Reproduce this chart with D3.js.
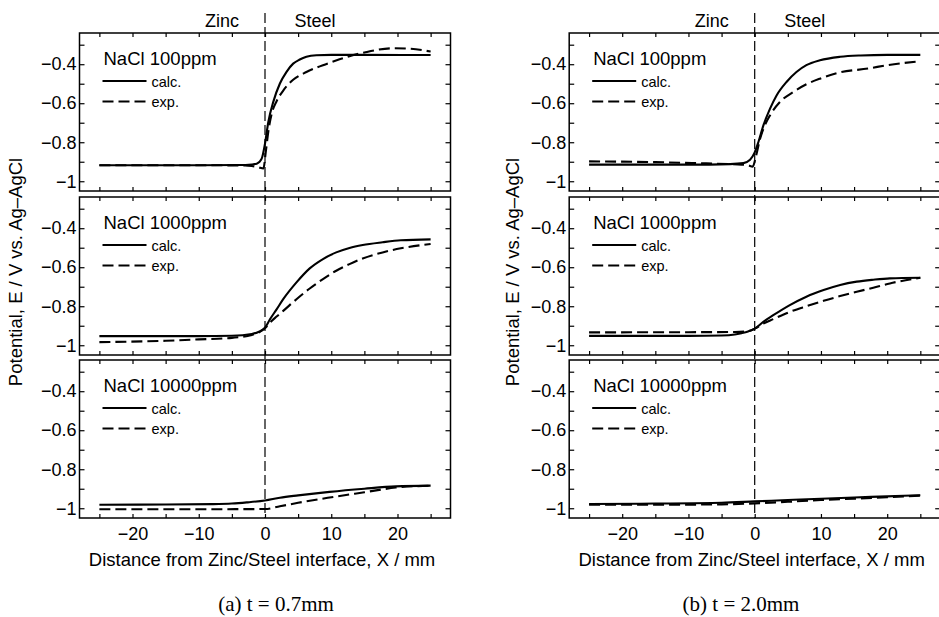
<!DOCTYPE html>
<html>
<head>
<meta charset="utf-8">
<script src="https://cdn.jsdelivr.net/npm/d3@7"></script>
<style>
body { margin: 0; background: #fff; }
svg { display: block; font-family: "Liberation Sans", Arial, sans-serif; }
</style>
</head>
<body>
<svg width="939" height="617"></svg>
<script>
// Potential profiles, [x in mm, E in V]
// (a) t = 0.7mm
var a100calc = [[-25,-0.918],[-10,-0.918],[-4,-0.917],[-2,-0.914],[-1.25,-0.91],[-0.5,-0.884],[0,-0.807],[0.5,-0.696],[1.25,-0.593],[2.25,-0.499],[3.25,-0.439],[4.25,-0.397],[5.25,-0.376],[6.25,-0.362],[7.75,-0.354],[10,-0.352],[15,-0.352],[25,-0.353]];
var a100exp = [[-25,-0.918],[-10,-0.918],[-3,-0.919],[-2,-0.922],[-1,-0.928],[-0.25,-0.935],[0.15,-0.84],[0.5,-0.745],[1,-0.655],[1.75,-0.59],[2.75,-0.535],[4.25,-0.48],[6.25,-0.44],[8.75,-0.405],[11.25,-0.375],[13,-0.356],[15,-0.34],[17,-0.326],[19.5,-0.318],[22,-0.321],[25,-0.335]];
var a1000calc = [[-25,-0.953],[-10,-0.953],[-5,-0.951],[-2,-0.942],[-1,-0.932],[0,-0.91],[0.75,-0.867],[1.75,-0.816],[2.75,-0.764],[4.75,-0.678],[6.75,-0.606],[8.75,-0.558],[10.75,-0.524],[12.75,-0.501],[14.75,-0.486],[17.75,-0.472],[20.5,-0.462],[25,-0.457]];
var a1000exp = [[-25,-0.984],[-15,-0.977],[-10,-0.97],[-5,-0.962],[-2,-0.947],[-1,-0.935],[0,-0.913],[0.75,-0.884],[1.75,-0.853],[2.75,-0.824],[4.75,-0.764],[6.75,-0.709],[8.75,-0.661],[10.75,-0.618],[12.75,-0.584],[14.75,-0.555],[17.75,-0.524],[20.5,-0.503],[25,-0.481]];
var a10000calc = [[-25,-0.982],[-15,-0.981],[-8,-0.979],[-5,-0.976],[-2.75,-0.97],[0,-0.96],[2.25,-0.946],[5,-0.934],[9.75,-0.916],[15,-0.9],[19.75,-0.888],[25,-0.884]];
var a10000exp = [[-25,-1.005],[-10,-1.005],[0,-1.004],[2.25,-0.99],[5,-0.972],[9.75,-0.945],[15,-0.918],[19.75,-0.894],[25,-0.884]];

// (b) t = 2.0mm
var b100calc = [[-25,-0.915],[-10,-0.915],[-3.7,-0.912],[-1.7,-0.907],[-0.7,-0.89],[0,-0.852],[0.55,-0.8],[1.3,-0.715],[2.3,-0.629],[3.3,-0.56],[4.8,-0.491],[6.3,-0.44],[7.8,-0.405],[9.85,-0.38],[12.9,-0.362],[16,-0.355],[20,-0.352],[25,-0.352]];
var b100exp = [[-25,-0.898],[-15,-0.902],[-8,-0.908],[-4,-0.912],[-2,-0.915],[-1,-0.918],[-0.3,-0.925],[0.2,-0.87],[0.8,-0.783],[1.3,-0.732],[2.3,-0.663],[3.8,-0.594],[5.8,-0.543],[7.8,-0.503],[9.85,-0.474],[12.5,-0.445],[17.3,-0.421],[20,-0.405],[25,-0.385]];
var b1000calc = [[-25,-0.952],[-10,-0.952],[-5,-0.95],[-3,-0.945],[-2,-0.938],[-1,-0.929],[0,-0.915],[1.3,-0.88],[2.8,-0.846],[5.3,-0.794],[7.8,-0.751],[10.4,-0.717],[12.9,-0.691],[15.4,-0.674],[17.9,-0.664],[20.4,-0.657],[25,-0.654]];
var b1000exp = [[-25,-0.934],[-10,-0.933],[-3,-0.932],[-1,-0.928],[0,-0.915],[1.3,-0.889],[2.8,-0.866],[5.3,-0.829],[7.8,-0.8],[10.4,-0.772],[12.9,-0.748],[15.4,-0.726],[17.9,-0.705],[20.4,-0.683],[25,-0.654]];
var b10000calc = [[-25,-0.978],[-15,-0.976],[-5,-0.972],[0,-0.965],[5,-0.958],[10,-0.951],[15,-0.945],[20,-0.939],[25,-0.933]];
var b10000exp = [[-25,-0.982],[-15,-0.982],[-5,-0.98],[0,-0.975],[5,-0.967],[10,-0.958],[15,-0.951],[20,-0.943],[25,-0.935]];

var panelNames = ["NaCl 100ppm", "NaCl 1000ppm", "NaCl 10000ppm"];
var legendNames = ["calc.", "exp."];
var xMajor = [-20, -10, 0, 10, 20];
var xMinor = [-25, -15, -5, 5, 15, 25];
var yMajor = [-0.4, -0.6, -0.8, -1];
var yMinor = [-0.3, -0.5, -0.7, -0.9];

// Layout
var svg = d3.select("svg");
var panelTops = [33, 197, 360], panelH = 158;
var xDomain = [-28, 28], yDomain = [-1.05, -0.24];
var dashExp = "11,5";

function styleAxis(g) {
    g.attr("font-family", null).attr("font-size", 18);
    g.select(".domain").remove();
    g.selectAll("line").attr("stroke", "#000").attr("stroke-width", 1.2);
    g.selectAll("text").attr("fill", "#000");
}

function drawFigure(left, right, sets, caption, yLabX, capX) {
    var x = d3.scaleLinear().domain(xDomain).range([left, right]);
    var g = svg.append("g");

    sets.forEach(function(s, i) {
        var top = panelTops[i];
        var y = d3.scaleLinear().domain(yDomain).range([top + panelH, top]);
        var p = g.append("g");

        // ticks (inward)
        p.append("g").attr("transform", `translate(${left},0)`)
            .call(d3.axisLeft(y).tickValues(yMajor.concat(yMinor)).tickSizeInner(-5).tickSizeOuter(0)
                .tickPadding(3).tickFormat(d => yMajor.includes(d) ? d3.format("")(d) : ""))
            .call(styleAxis);
        p.append("g").attr("transform", `translate(${right},0)`)
            .call(d3.axisRight(y).tickValues(yMajor.concat(yMinor)).tickSizeInner(-5).tickSizeOuter(0).tickFormat(""))
            .call(styleAxis);
        p.append("g").attr("transform", `translate(0,${top})`)
            .call(d3.axisTop(x).tickValues(xMajor.concat(xMinor)).tickSizeInner(-4).tickSizeOuter(0).tickFormat(""))
            .call(styleAxis);
        p.append("g").attr("transform", `translate(0,${top + panelH})`)
            .call(d3.axisBottom(x).tickValues(xMajor.concat(xMinor)).tickSizeInner(-4).tickSizeOuter(0)
                .tickPadding(9.5).tickFormat(d => (i === 2 && xMajor.includes(d)) ? d3.format("")(d) : ""))
            .call(styleAxis);

        // frame
        p.append("rect")
            .attr("x", left).attr("y", top)
            .attr("width", right - left).attr("height", panelH)
            .attr("fill", "none").attr("stroke", "#000").attr("stroke-width", 1.5);

        var line = d3.line()
            .x(d => x(d[0]))
            .y(d => y(d[1]))
            .curve(d3.curveMonotoneX);

        p.append("path").datum(s.calc)
            .attr("d", line).attr("fill", "none")
            .attr("stroke", "#000").attr("stroke-width", 2.1);
        p.append("path").datum(s.exp)
            .attr("d", line).attr("fill", "none")
            .attr("stroke", "#000").attr("stroke-width", 2.1)
            .attr("stroke-dasharray", dashExp);

        // legend
        p.append("text")
            .attr("x", left + 24).attr("y", top + 32)
            .attr("font-size", 18.5)
            .text(panelNames[i]);
        [0, 1].forEach(function(k) {
            var ly = top + 48 + k * 20.5;
            p.append("line")
                .attr("x1", left + 23).attr("x2", left + 67)
                .attr("y1", ly).attr("y2", ly)
                .attr("stroke", "#000").attr("stroke-width", 2)
                .attr("stroke-dasharray", k === 1 ? dashExp : null);
            p.append("text")
                .attr("x", left + 72).attr("y", ly + 5.5)
                .attr("font-size", 14.5)
                .text(legendNames[k]);
        });
    });

    // interface line
    g.append("line")
        .attr("x1", x(0)).attr("x2", x(0))
        .attr("y1", 13).attr("y2", panelTops[2] + panelH)
        .attr("stroke", "#000").attr("stroke-width", 1.2)
        .attr("stroke-dasharray", "10,4");

    g.append("text").attr("x", x(0) - 43).attr("y", 27)
        .attr("text-anchor", "middle").attr("font-size", 18).text("Zinc");
    g.append("text").attr("x", x(0) + 50).attr("y", 27)
        .attr("text-anchor", "middle").attr("font-size", 18).text("Steel");

    // axis titles
    g.append("text")
        .attr("x", (left + right) / 2 - 3).attr("y", 566)
        .attr("text-anchor", "middle").attr("font-size", 18.5)
        .text("Distance from Zinc/Steel interface, X / mm");
    g.append("text")
        .attr("transform", `translate(${yLabX},272) rotate(-90)`)
        .attr("text-anchor", "middle").attr("font-size", 18.5)
        .text("Potential, E / V vs. Ag\u2013AgCl");

    // caption
    g.append("text")
        .attr("x", capX).attr("y", 611)
        .attr("text-anchor", "middle")
        .attr("font-family", "'Liberation Serif', 'Times New Roman', serif")
        .attr("font-size", 21)
        .text(caption);
}

drawFigure(79.5, 450.5, [
    {calc: a100calc, exp: a100exp},
    {calc: a1000calc, exp: a1000exp},
    {calc: a10000calc, exp: a10000exp}
], "(a) t = 0.7mm", 22, 276);

drawFigure(569.2, 940.2, [
    {calc: b100calc, exp: b100exp},
    {calc: b1000calc, exp: b1000exp},
    {calc: b10000calc, exp: b10000exp}
], "(b) t = 2.0mm", 519, 741);
</script>
</body>
</html>
